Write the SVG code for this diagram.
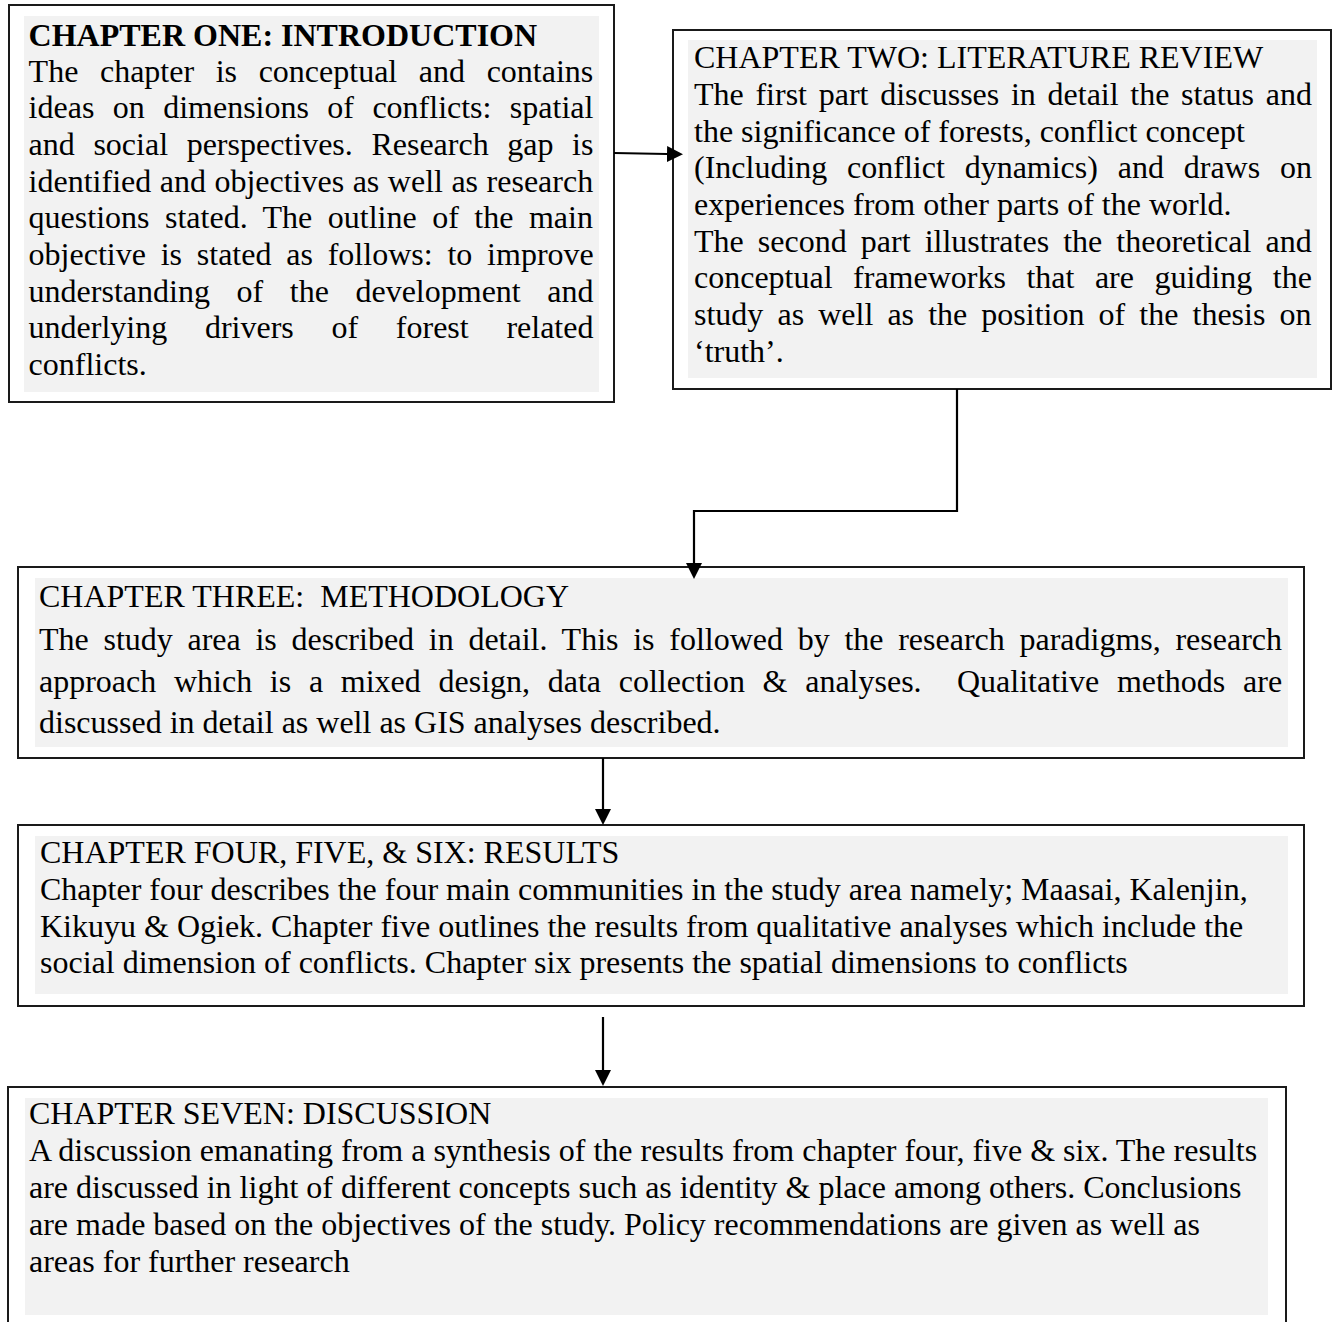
<svg xmlns="http://www.w3.org/2000/svg" width="1339" height="1322" viewBox="0 0 1339 1322">
  <style>
    .frame { fill: #ffffff; stroke: #1a1a1a; stroke-width: 2; }
    .shade { fill: #f2f2f2; stroke: none; }
    .txt { font-family: "Liberation Serif", "Times New Roman", serif; font-size: 32px; fill: #000000; }
    .bold { font-weight: bold; }
    .link { fill: none; stroke: #000000; stroke-width: 2.2; }
  </style>
  <defs>
    <marker id="head" markerUnits="userSpaceOnUse" markerWidth="16" markerHeight="16" refX="0" refY="8" orient="auto">
      <path d="M0,0 L16,8 L0,16 Z" fill="#000000"/>
    </marker>
  </defs>

  <rect width="1339" height="1322" fill="#ffffff"/>

  <!-- Chapter one -->
  <g id="chapter-one">
    <rect class="frame" x="9" y="5" width="605" height="397"/>
    <rect class="shade" x="24" y="16" width="575" height="376"/>
    <text class="txt bold" x="28.6" y="46">CHAPTER ONE: INTRODUCTION</text>
    <text class="txt" x="28.6" y="81.7" word-spacing="13.6">The chapter is conceptual and contains</text>
    <text class="txt" x="28.6" y="118.4" word-spacing="10.4">ideas on dimensions of conflicts: spatial</text>
    <text class="txt" x="28.6" y="155" word-spacing="10.6">and social perspectives. Research gap is</text>
    <text class="txt" x="28.6" y="191.7" word-spacing="0.5">identified and objectives as well as research</text>
    <text class="txt" x="28.6" y="228.4" word-spacing="7.5">questions stated. The outline of the main</text>
    <text class="txt" x="28.6" y="265" word-spacing="6.8">objective is stated as follows: to improve</text>
    <text class="txt" x="28.6" y="301.7" word-spacing="18.6">understanding of the development and</text>
    <text class="txt" x="28.6" y="338.4" word-spacing="29.7">underlying drivers of forest related</text>
    <text class="txt" x="28.6" y="375">conflicts.</text>
  </g>

  <!-- Chapter two -->
  <g id="chapter-two">
    <rect class="frame" x="673" y="30" width="658" height="359"/>
    <rect class="shade" x="688" y="40" width="629" height="338"/>
    <text class="txt" x="694" y="68">CHAPTER TWO: LITERATURE REVIEW</text>
    <text class="txt" x="694" y="105" word-spacing="3.7">The first part discusses in detail the status and</text>
    <text class="txt" x="694" y="141.7">the significance of forests, conflict concept</text>
    <text class="txt" x="694" y="178.4" word-spacing="11.8">(Including conflict dynamics) and draws on</text>
    <text class="txt" x="694" y="215">experiences from other parts of the world.</text>
    <text class="txt" x="694" y="251.7" word-spacing="6.1">The second part illustrates the theoretical and</text>
    <text class="txt" x="694" y="288.4" word-spacing="12.5">conceptual frameworks that are guiding the</text>
    <text class="txt" x="694" y="325" word-spacing="6.1">study as well as the position of the thesis on</text>
    <text class="txt" x="694" y="361.7">‘truth’.</text>
  </g>

  <!-- Chapter three -->
  <g id="chapter-three">
    <rect class="frame" x="18" y="567" width="1286" height="191"/>
    <rect class="shade" x="35" y="578" width="1253" height="169"/>
    <text class="txt" x="39" y="607" xml:space="preserve">CHAPTER THREE:  METHODOLOGY</text>
    <text class="txt" x="39" y="650" word-spacing="6.7">The study area is described in detail. This is followed by the research paradigms, research</text>
    <text class="txt" x="39" y="692" word-spacing="9.7" xml:space="preserve">approach which is a mixed design, data collection &amp; analyses.  Qualitative methods are</text>
    <text class="txt" x="39" y="733">discussed in detail as well as GIS analyses described.</text>
  </g>

  <!-- Chapters four, five and six -->
  <g id="chapter-four-five-six">
    <rect class="frame" x="18" y="825" width="1286" height="181"/>
    <rect class="shade" x="35" y="836" width="1253" height="158"/>
    <text class="txt" x="40" y="863">CHAPTER FOUR, FIVE, &amp; SIX: RESULTS</text>
    <text class="txt" x="40" y="900">Chapter four describes the four main communities in the study area namely; Maasai, Kalenjin,</text>
    <text class="txt" x="40" y="937">Kikuyu &amp; Ogiek. Chapter five outlines the results from qualitative analyses which include the</text>
    <text class="txt" x="40" y="973">social dimension of conflicts. Chapter six presents the spatial dimensions to conflicts</text>
  </g>

  <!-- Chapter seven -->
  <g id="chapter-seven">
    <rect class="frame" x="8" y="1087" width="1278" height="260"/>
    <rect class="shade" x="25" y="1098" width="1243" height="217"/>
    <text class="txt" x="29" y="1124">CHAPTER SEVEN: DISCUSSION</text>
    <text class="txt" x="29" y="1161">A discussion emanating from a synthesis of the results from chapter four, five &amp; six. The results</text>
    <text class="txt" x="29" y="1198">are discussed in light of different concepts such as identity &amp; place among others. Conclusions</text>
    <text class="txt" x="29" y="1235">are made based on the objectives of the study. Policy recommendations are given as well as</text>
    <text class="txt" x="29" y="1272">areas for further research</text>
  </g>

  <!-- Connectors -->
  <g id="connectors">
    <path class="link" d="M614,153 L667,154" marker-end="url(#head)"/>
    <path class="link" d="M957,389 L957,511 L694,511 L694,563" marker-end="url(#head)"/>
    <path class="link" d="M603,758 L603,809" marker-end="url(#head)"/>
    <path class="link" d="M603,1017 L603,1070" marker-end="url(#head)"/>
  </g>
</svg>
